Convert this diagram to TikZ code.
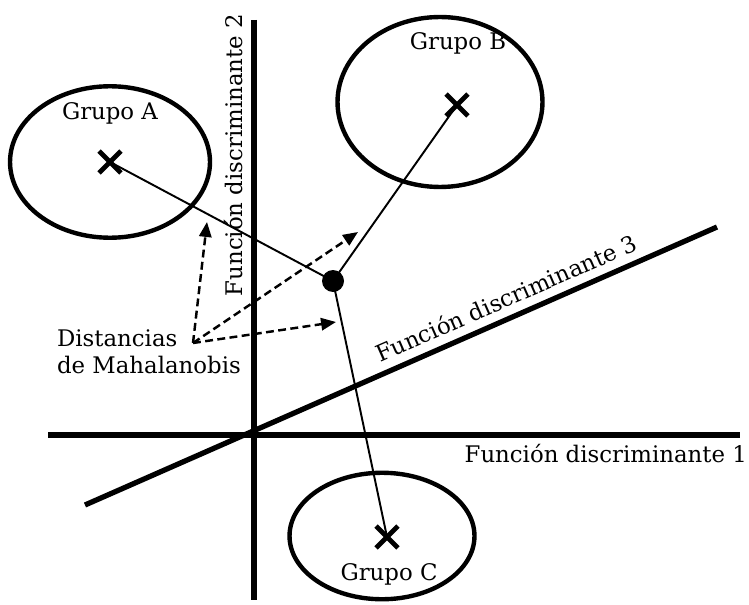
\documentclass[tikz,border=0pt]{standalone}
\usepackage{fontspec}
\setmainfont{DejaVu Serif}
\usetikzlibrary{shapes.geometric,shapes.misc,arrows.meta}

\tikzset{
  axisline/.style={line width=3pt},
  grp/.style={ellipse, draw, line width=2.5pt, inner sep=0pt},
  grpcross/.style={cross out, draw, line width=2.8pt, minimum size=0.34cm, inner sep=0pt},
  link/.style={line width=1.1pt},
  mdist/.style={line width=1.4pt, dash pattern=on 4.5pt off 2.5pt, -{Triangle[length=8.5pt, width=7pt]}},
  lbl/.style={font=\fontsize{13}{15.5}\selectfont, inner sep=1pt}
}

\begin{document}
\begin{tikzpicture}[x=0.02cm, y=-0.02cm]

\useasboundingbox (0,0) rectangle (749,604);

% Discriminant axes
\draw[axisline] (48,435) -- (740,435);
\draw[axisline] (254,20) -- (254,600);
\draw[axisline] (85,505) -- (717,227);

% Axis labels
\node[lbl, anchor=north east] (f1) at (749,442) {Función discriminante 1};
\node[lbl, rotate=90] (f2) at (234,155) {Función discriminante 2};
\node[lbl, rotate=23.7] (f3) at (506,298) {Función discriminante 3};

% Groups
\node[grp, minimum width=4.0cm, minimum height=3.03cm] (grpA) at (110,162) {};
\node[grp, minimum width=4.1cm, minimum height=3.4cm] (grpB) at (440,102) {};
\node[grp, minimum width=3.7cm, minimum height=2.53cm] (grpC) at (382,536) {};

\node[lbl] (labA) at (110,113) {Grupo A};
\node[lbl] (labB) at (458,43) {Grupo B};
\node[lbl] (labC) at (389,574) {Grupo C};

% Centroids
\node[grpcross] (cA) at (110,162) {};
\node[grpcross] (cB) at (457,105) {};
\node[grpcross] (cC) at (387,537) {};

% New case
\node[circle, fill=black, minimum size=0.44cm, inner sep=0pt] (obs) at (333,281) {};

\draw[link] (obs.center) -- (cA.center);
\draw[link] (obs.center) -- (cB.center);
\draw[link] (obs.center) -- (cC.center);

% Mahalanobis distances
\node[lbl, anchor=west, align=left] (mah) at (55,352) {Distancias\\de Mahalanobis};
\coordinate (mo) at (193,343);
\coordinate (tA) at (207,222);
\coordinate (tB) at (358,232);
\coordinate (tC) at (336,322);

\draw[mdist] (mo) -- (tA);
\draw[mdist] (mo) -- (tB);
\draw[mdist] (mo) -- (tC);

\end{tikzpicture}
\end{document}
